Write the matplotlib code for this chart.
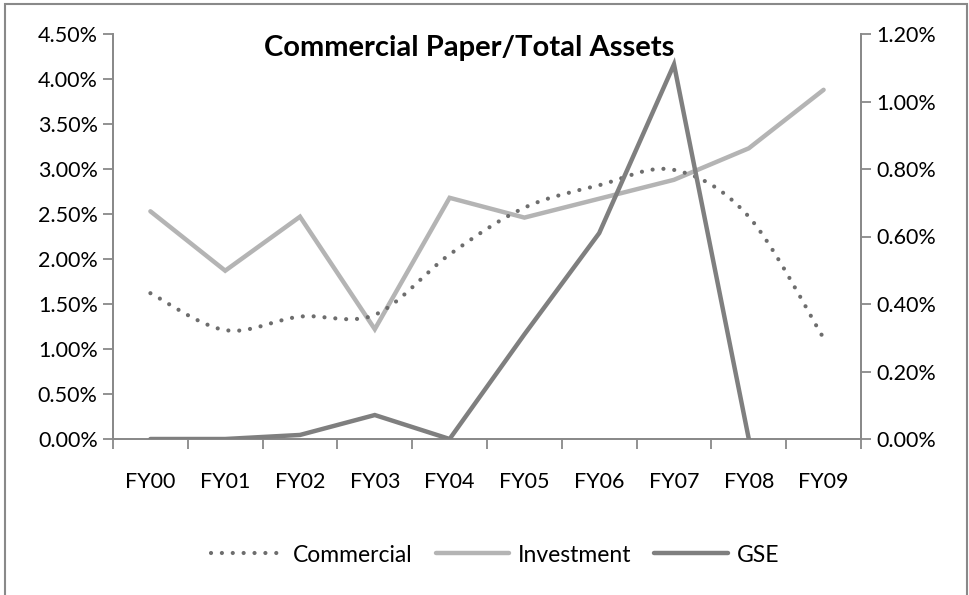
import numpy as np
import matplotlib.pyplot as plt
from matplotlib.path import Path
from matplotlib.patches import PathPatch, Rectangle
from matplotlib.lines import Line2D
from matplotlib.ticker import FuncFormatter

plt.rcParams['font.family'] = ['Lato', 'DejaVu Sans']

# ---- data ----
years = ["FY00", "FY01", "FY02", "FY03", "FY04", "FY05", "FY06", "FY07", "FY08", "FY09"]
commercial = [1.62, 1.21, 1.36, 1.38, 2.05, 2.57, 2.82, 2.99, 2.47, 1.12]   # % left axis
investment = [2.53, 1.87, 2.47, 1.22, 2.68, 2.46, 2.67, 2.88, 3.23, 3.88]   # % left axis
gse = [0.0, 0.0, 0.012, 0.071, 0.0, 0.31, 0.61, 1.11, 0.0, np.nan]          # % right axis

c_comm = "#6d6d6d"
c_inv = "#b4b4b4"
c_gse = "#7f7f7f"
c_axis = "#898989"


def smooth_path(xs, ys):
    # excel-style smoothed line: bezier segments through the points
    pts = np.column_stack([xs, ys])
    n = len(pts)
    verts = [pts[0]]
    codes = [Path.MOVETO]
    for i in range(n - 1):
        p0 = pts[i - 1] if i > 0 else pts[i]
        p1 = pts[i]
        p2 = pts[i + 1]
        p3 = pts[i + 2] if i + 2 < n else pts[i + 1]
        c1 = p1 + (p2 - p0) / 6.0
        c2 = p2 - (p3 - p1) / 6.0
        verts += [c1, c2, p2]
        codes += [Path.CURVE4] * 3
    return Path(verts, codes)


fig = plt.figure(figsize=(9.69, 5.95), dpi=100)
ax = fig.add_axes([113 / 969, 1 - 439 / 595, (861 - 113) / 969, (439 - 34) / 595])
ax2 = ax.twinx()

x = np.arange(len(years))
dots = (0, (0.01, 2.6))
fs = 15.5

comm_patch = PathPatch(smooth_path(x, commercial), fill=False, edgecolor=c_comm,
                       linewidth=3.0, linestyle=dots, capstyle='round', zorder=3)
ax.add_patch(comm_patch)
ax.plot(x, investment, color=c_inv, linewidth=3.2, solid_capstyle='round',
        solid_joinstyle='miter', zorder=2)
ax2.plot(x, gse, color=c_gse, linewidth=3.2, solid_capstyle='round',
         solid_joinstyle='miter', zorder=4)

ax.set_xlim(-0.5, len(years) - 0.5)
ax.set_ylim(0, 4.5)
ax2.set_ylim(0, 1.2)
ax.set_yticks(np.arange(0, 4.51, 0.5))
ax2.set_yticks(np.arange(0, 1.21, 0.2))
ax.yaxis.set_major_formatter(FuncFormatter(lambda v, p: f"{v:.2f}%"))
ax2.yaxis.set_major_formatter(FuncFormatter(lambda v, p: f"{v:.2f}%"))

ax.set_xticks(x)
ax.set_xticklabels(years)
ax.set_xticks(np.arange(-0.5, len(years), 1.0), minor=True)
ax.tick_params(axis='x', which='major', length=0, pad=24, labelsize=fs)
ax.tick_params(axis='x', which='minor', length=7, width=1.3, color=c_axis, direction='out')
ax.tick_params(axis='y', length=7, width=1.3, color=c_axis, labelsize=fs, pad=4)
ax2.tick_params(axis='y', length=7, width=1.3, color=c_axis, labelsize=fs, pad=4)

for a in (ax, ax2):
    a.spines['top'].set_visible(False)
    for s in ('left', 'right', 'bottom'):
        a.spines[s].set_color(c_axis)
        a.spines[s].set_linewidth(1.3)
    a.set_facecolor('none')

fig.text(469 / 969, 1 - 48 / 595, "Commercial Paper/Total Assets", ha='center', va='center',
         fontsize=21, fontweight='bold')

handles = [
    Line2D([], [], color=c_comm, linewidth=3.0, linestyle=dots, dash_capstyle='round'),
    Line2D([], [], color=c_inv, linewidth=3.2, solid_capstyle='round'),
    Line2D([], [], color=c_gse, linewidth=3.2, solid_capstyle='round'),
]
fig.legend(handles, ["Commercial", "Investment", "GSE"], loc='center',
           bbox_to_anchor=(495 / 969, 1 - 555 / 595), ncol=3, frameon=False,
           fontsize=16.5, handlelength=3.2, handletextpad=0.4, columnspacing=1.0)

# outer chart border
fig.patches.append(Rectangle((5 / 969, -0.02), (967 - 5) / 969, 1 - 4 / 595 + 0.02,
                             transform=fig.transFigure, fill=False,
                             edgecolor=c_axis, linewidth=1.5))

fig.savefig("out.png", dpi=100)
